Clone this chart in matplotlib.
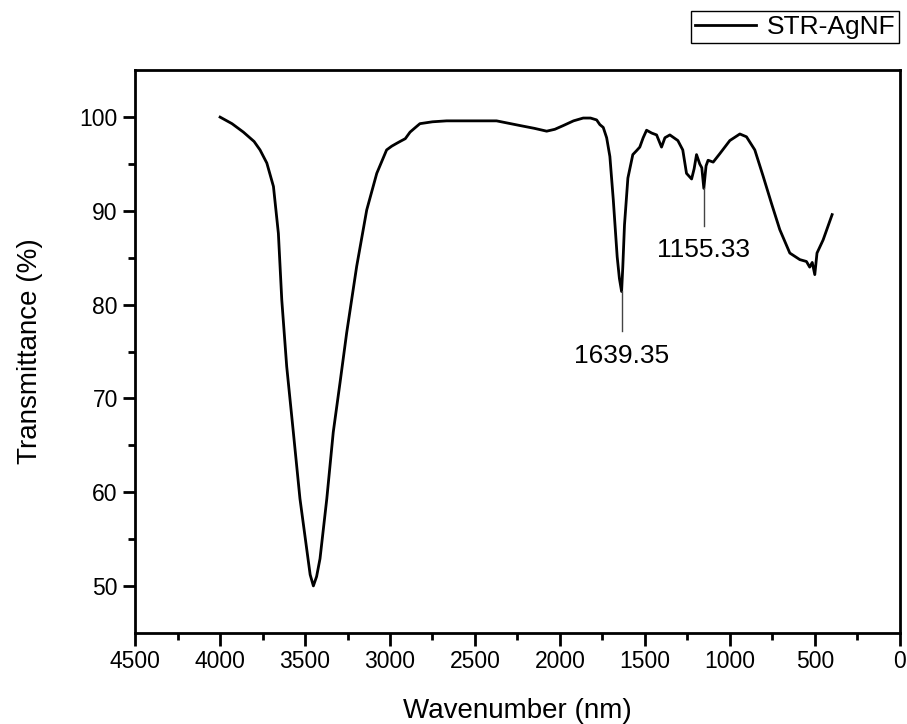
# FTIR spectrum of STR-AgNF
import matplotlib.pyplot as plt
from matplotlib.ticker import MultipleLocator, FixedLocator

plt.rcParams['font.family'] = ['Liberation Sans', 'DejaVu Sans']

# values
wavenumber = [4000, 3930, 3863, 3800, 3765, 3725, 3686, 3657, 3637, 3608, 3569,
              3530, 3490, 3470, 3451, 3432, 3412, 3372, 3334, 3294, 3255, 3196,
              3137, 3078, 3020, 2990, 2961, 2941, 2910, 2882, 2850, 2824, 2750,
              2667, 2500, 2373, 2235, 2150, 2078, 2030, 1980, 1920, 1863, 1820,
              1784, 1765, 1745, 1725, 1706, 1686, 1663, 1650, 1637, 1630, 1620,
              1600, 1571, 1550, 1530, 1510, 1490, 1460, 1431, 1402, 1382, 1353,
              1306, 1277, 1255, 1225, 1210, 1196, 1177, 1165, 1153, 1140, 1128,
              1098, 1059, 1000, 941, 902, 853, 804, 755, 706, 647, 588, 549,
              530, 515, 500, 487, 451, 398]
transmittance = [100.0, 99.3, 98.4, 97.4, 96.5, 95.1, 92.6, 87.6, 80.5, 73.4, 66.4,
                 59.3, 53.9, 51.2, 50.0, 51.0, 52.9, 59.3, 66.4, 71.7, 77.0, 84.1,
                 90.1, 94.0, 96.5, 96.9, 97.2, 97.4, 97.7, 98.4, 98.9, 99.3, 99.5,
                 99.6, 99.6, 99.6, 99.1, 98.8, 98.5, 98.7, 99.1, 99.6, 99.9, 99.9,
                 99.7, 99.2, 98.9, 97.8, 95.8, 91.2, 85.1, 82.8, 81.4, 84.0, 88.5,
                 93.5, 96.0, 96.4, 96.8, 97.8, 98.6, 98.3, 98.1, 96.8, 97.8, 98.1,
                 97.5, 96.5, 94.0, 93.4, 94.5, 96.0, 95.0, 94.6, 92.4, 94.8, 95.4,
                 95.2, 96.1, 97.5, 98.2, 97.9, 96.5, 93.7, 90.8, 88.0, 85.5, 84.8,
                 84.6, 84.0, 84.5, 83.2, 85.5, 86.9, 89.6]

peak_labels = ['1639.35', '1155.33']
peak_x = [1637, 1153]
peak_y = [81.4, 92.4]
peak_line_end = [77.2, 88.4]
peak_text_y = [74.5, 85.8]

fig = plt.figure(figsize=(9.07, 7.24), dpi=100)
ax = fig.add_axes([0.149, 0.126, 0.843, 0.777])

ax.plot(wavenumber, transmittance, color='black', linewidth=2, label='STR-AgNF')

# peak markers
for lab, px, py, pe, ty in zip(peak_labels, peak_x, peak_y, peak_line_end, peak_text_y):
    ax.plot([px, px], [py, pe], color='#444444', linewidth=1)
    ax.text(px, ty, lab, ha='center', va='center', fontsize=19)

ax.set_xlim(4500, 0)
ax.set_ylim(45, 105)
ax.xaxis.set_major_locator(MultipleLocator(500))
ax.xaxis.set_minor_locator(MultipleLocator(250))
ax.yaxis.set_major_locator(FixedLocator([50, 60, 70, 80, 90, 100]))
ax.yaxis.set_minor_locator(FixedLocator([55, 65, 75, 85, 95]))
ax.tick_params(which='major', direction='out', length=9, width=2, labelsize=16.5)
ax.tick_params(which='minor', direction='out', length=5, width=2)
for sp in ax.spines.values():
    sp.set_linewidth(2)

ax.set_xlabel('Wavenumber (nm)', fontsize=20, labelpad=18)
ax.set_ylabel('Transmittance (%)', fontsize=20, labelpad=26)

fig.legend(loc='upper right', bbox_to_anchor=(899 / 907, 1 - 11 / 724),
           bbox_transform=fig.transFigure, fontsize=19, frameon=True,
           fancybox=False, edgecolor='black', framealpha=1,
           handlelength=2.3, handletextpad=0.4, borderpad=0.15,
           borderaxespad=0)

fig.savefig('out.png', dpi=100)
